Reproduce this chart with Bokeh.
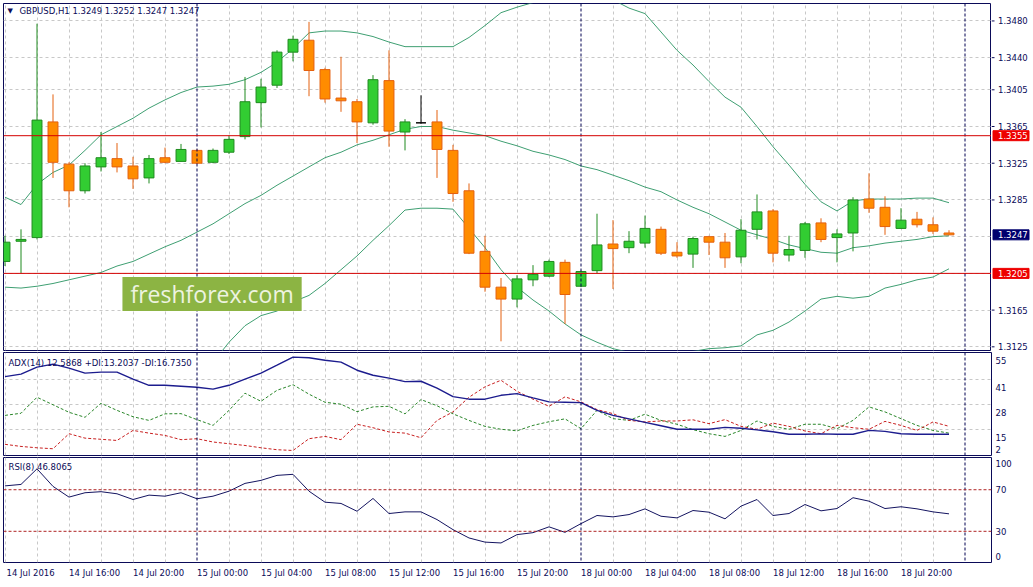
from bokeh.plotting import figure
from bokeh.layouts import column, row
from bokeh.models import (Range1d, FixedTicker, Span, Label, ColumnDataSource, Grid)
from bokeh.core.properties import value
from bokeh.embed import file_html
from bokeh.resources import INLINE

# ---------------- data ----------------
symbol = "GBPUSD,H1"
opens = [1.3218, 1.3240, 1.3244, 1.3370, 1.3324, 1.3295, 1.3321, 1.3330, 1.3322, 1.3309,
         1.3331, 1.3327, 1.3339, 1.3326, 1.3337, 1.3354, 1.3391, 1.3410, 1.3446, 1.3459,
         1.3427, 1.3396, 1.3392, 1.3369, 1.3415, 1.3359, 1.3369, 1.3370, 1.3339, 1.3295,
         1.3229, 1.3190, 1.3177, 1.3198, 1.3202, 1.3217, 1.3191, 1.3208, 1.3237, 1.3233,
         1.3238, 1.3253, 1.3228, 1.3226, 1.3245, 1.3239, 1.3223, 1.3253, 1.3273, 1.3225,
         1.3230, 1.3260, 1.3244, 1.3249, 1.3286, 1.3277, 1.3254, 1.3264, 1.3258, 1.3249]
highs = [1.3246, 1.3253, 1.3477, 1.3400, 1.3326, 1.3325, 1.3359, 1.3347, 1.3332, 1.3334,
         1.3342, 1.3346, 1.3340, 1.3341, 1.3355, 1.3419, 1.3417, 1.3448, 1.3464, 1.3479,
         1.3429, 1.3441, 1.3395, 1.3421, 1.3448, 1.3373, 1.3399, 1.3383, 1.3345, 1.3303,
         1.3246, 1.3200, 1.3203, 1.3214, 1.3220, 1.3220, 1.3208, 1.3270, 1.3263, 1.3251,
         1.3268, 1.3256, 1.3239, 1.3245, 1.3246, 1.3249, 1.3264, 1.3291, 1.3275, 1.3246,
         1.3261, 1.3265, 1.3253, 1.3288, 1.3314, 1.3289, 1.3276, 1.3272, 1.3266, 1.3252]
lows = [1.3213, 1.3205, 1.3242, 1.3309, 1.3277, 1.3292, 1.3316, 1.3315, 1.3297, 1.3303,
        1.3325, 1.3327, 1.3324, 1.3325, 1.3335, 1.3351, 1.3364, 1.3407, 1.3436, 1.3398,
        1.3391, 1.3381, 1.3347, 1.3367, 1.3343, 1.3339, 1.3368, 1.3309, 1.3283, 1.3226,
        1.3185, 1.3131, 1.3168, 1.3191, 1.3201, 1.3150, 1.3190, 1.3205, 1.3188, 1.3227,
        1.3233, 1.3225, 1.3222, 1.3211, 1.3225, 1.3211, 1.3216, 1.3242, 1.3217, 1.3218,
        1.3222, 1.3239, 1.3217, 1.3229, 1.3271, 1.3247, 1.3254, 1.3255, 1.3248, 1.3247]
closes = [1.3239, 1.3242, 1.3372, 1.3326, 1.3295, 1.3322, 1.3331, 1.3321, 1.3308, 1.3330,
          1.3326, 1.3340, 1.3325, 1.3339, 1.3351, 1.3392, 1.3408, 1.3446, 1.3460, 1.3426,
          1.3395, 1.3393, 1.3370, 1.3416, 1.3360, 1.3370, 1.3369, 1.3340, 1.3292, 1.3227,
          1.3190, 1.3177, 1.3199, 1.3204, 1.3218, 1.3182, 1.3207, 1.3236, 1.3232, 1.3240,
          1.3254, 1.3227, 1.3224, 1.3243, 1.3239, 1.3222, 1.3252, 1.3272, 1.3227, 1.3231,
          1.3259, 1.3242, 1.3248, 1.3285, 1.3276, 1.3256, 1.3263, 1.3258, 1.3251, 1.3247]

bb_upper = [1.3288, 1.3280, 1.3302, 1.3315, 1.3323, 1.3339, 1.3356, 1.3365, 1.3374, 1.3385,
            1.3394, 1.3402, 1.3408, 1.3409, 1.3411, 1.3416, 1.3424, 1.3435, 1.3450, 1.3467,
            1.3469, 1.3469, 1.3467, 1.3463, 1.3457, 1.3452, 1.3452, 1.3452, 1.3452, 1.3462,
            1.3475, 1.3489, 1.3495, 1.3500, 1.3508, 1.3512, 1.3513, 1.3511, 1.3503, 1.3494,
            1.3488, 1.3468, 1.3448, 1.3432, 1.3414, 1.3397, 1.3386, 1.3365, 1.3343, 1.3323,
            1.3302, 1.3283, 1.3273, 1.3284, 1.3286, 1.3286, 1.3286, 1.3287, 1.3287, 1.3282]
bb_middle = [1.3190, 1.3189, 1.3191, 1.3194, 1.3198, 1.3202, 1.3206, 1.3213, 1.3218, 1.3226,
             1.3234, 1.3241, 1.3250, 1.3259, 1.3270, 1.3281, 1.3290, 1.3301, 1.3311, 1.3321,
             1.3331, 1.3337, 1.3345, 1.3350, 1.3356, 1.3362, 1.3365, 1.3365, 1.3361, 1.3358,
             1.3355, 1.3349, 1.3344, 1.3338, 1.3334, 1.3329, 1.3322, 1.3318, 1.3312, 1.3306,
             1.3299, 1.3294, 1.3285, 1.3277, 1.3270, 1.3261, 1.3252, 1.3247, 1.3242, 1.3236,
             1.3232, 1.3228, 1.3227, 1.3233, 1.3235, 1.3238, 1.3240, 1.3242, 1.3245, 1.3246]
bb_lower = [1.3092, 1.3099, 1.3080, 1.3073, 1.3072, 1.3065, 1.3057, 1.3062, 1.3063, 1.3067,
            1.3073, 1.3081, 1.3092, 1.3108, 1.3130, 1.3148, 1.3159, 1.3164, 1.3174, 1.3181,
            1.3194, 1.3209, 1.3224, 1.3241, 1.3257, 1.3274, 1.3276, 1.3276, 1.3275, 1.3254,
            1.3233, 1.3209, 1.3190, 1.3176, 1.3164, 1.3150, 1.3138, 1.3130, 1.3123, 1.3119,
            1.3118, 1.3118, 1.3119, 1.3120, 1.3123, 1.3124, 1.3126, 1.3138, 1.3143, 1.3152,
            1.3164, 1.3177, 1.3180, 1.3178, 1.3180, 1.3189, 1.3193, 1.3198, 1.3201, 1.3210]

adx = [42.5, 43.8, 47.4, 49.0, 46.9, 44.3, 44.8, 44.8, 41.2, 38.0,
       38.0, 37.5, 37.0, 36.0, 38.0, 41.2, 44.3, 48.4, 52.6, 52.3,
       51.0, 50.0, 45.8, 43.2, 41.7, 39.9, 40.1, 36.5, 32.1, 30.8,
       30.8, 32.8, 33.7, 31.5, 29.4, 29.2, 29.0, 25.0, 22.4, 20.6,
       18.8, 17.0, 15.2, 15.2, 15.2, 16.2, 15.7, 14.9, 13.9, 12.6,
       12.6, 12.8, 12.6, 12.6, 14.6, 14.1, 12.9, 12.6, 12.6, 12.5868]
plus_di = [22.4, 23.5, 31.8, 27.9, 24.0, 21.4, 28.7, 25.0, 21.7, 19.8,
           23.2, 23.3, 20.2, 17.2, 25.0, 33.9, 29.7, 35.4, 38.3, 33.4,
           29.2, 28.2, 24.3, 26.8, 27.1, 23.2, 30.6, 27.4, 23.2, 19.8,
           16.7, 15.2, 14.4, 17.2, 19.1, 20.6, 15.5, 25.0, 20.7, 19.8,
           23.0, 19.8, 17.8, 15.0, 12.9, 11.5, 14.6, 19.5, 16.7, 15.2,
           17.8, 17.8, 15.5, 19.8, 26.8, 24.2, 20.7, 17.2, 14.6, 13.2037]
minus_di = [7.4, 6.3, 5.6, 5.1, 12.9, 10.6, 10.0, 9.4, 14.6, 13.2,
            12.0, 9.8, 10.3, 8.6, 7.7, 6.8, 5.6, 4.6, 4.2, 10.3,
            11.5, 9.8, 17.8, 16.0, 13.8, 13.2, 10.8, 19.8, 24.2, 31.8,
            37.2, 40.6, 34.9, 30.8, 27.1, 32.0, 29.4, 25.4, 23.3, 19.8,
            19.0, 19.5, 19.5, 20.1, 18.1, 20.2, 16.7, 15.2, 18.4, 16.7,
            14.3, 12.9, 17.2, 16.0, 15.2, 19.3, 17.2, 14.6, 19.0, 16.735]
rsi = [73.7, 75.1, 90.1, 73.2, 62.9, 67.1, 68.1, 66.1, 60.6, 64.8,
       63.8, 67.1, 61.3, 63.8, 68.6, 76.1, 79.0, 83.8, 84.8, 68.6,
       58.0, 56.8, 49.3, 61.6, 47.1, 48.7, 48.7, 41.3, 31.6, 23.6,
       19.6, 18.8, 26.8, 28.7, 34.3, 29.0, 37.4, 45.2, 43.9, 46.1,
       51.6, 44.5, 42.9, 50.0, 48.4, 42.0, 54.2, 60.6, 45.2, 47.1,
       55.8, 49.7, 51.9, 62.3, 59.0, 51.9, 53.6, 51.6, 48.7, 46.8065]

price_levels = [1.3355, 1.3205]
rsi_levels = [70, 30]
price_ticks = [1.3480, 1.3440, 1.3405, 1.3365, 1.3325, 1.3285, 1.3165, 1.3125]
price_grid = [1.3480, 1.3440, 1.3405, 1.3365, 1.3325, 1.3285, 1.3245, 1.3205, 1.3165, 1.3125]
adx_ticks = [55, 41, 28, 15, 2]
adx_grid = [41, 28, 15]
rsi_ticks = [100, 70, 30, 0]
day_separators = [12, 36, 60]
time_tick_bars = [0, 4, 8, 12, 16, 20, 24, 28, 32, 36, 40, 44, 48, 52, 56]
time_labels = ["14 Jul 2016", "14 Jul 16:00", "14 Jul 20:00", "15 Jul 00:00", "15 Jul 04:00",
               "15 Jul 08:00", "15 Jul 12:00", "15 Jul 16:00", "15 Jul 20:00", "18 Jul 00:00",
               "18 Jul 04:00", "18 Jul 08:00", "18 Jul 12:00", "18 Jul 16:00", "18 Jul 20:00"]

# ---------------- style ----------------
FONT = "DejaVu Sans"
FS = "8.5px"
NAVY = "#0a0a58"
SEP = "#000050"
GRID = "#c8c8c8"
BULL_FILL, BULL_LINE = "#32cd32", "#1f8a1f"
BEAR_FILL, BEAR_LINE = "#ff8c00", "#e4600e"
BB_COLOR = "#3f9f72"
LEVEL_RED = "#d40000"
RSI_LEVEL = "#b02424"
FRAME_W = 988
AXIS_W = 42

N = len(opens)
xs = list(range(N))
x_range = Range1d(-0.09375, 61.65625)


def base_fig(frame_h, y_range, top, bottom, with_yaxis=True, with_xaxis=False):
    p = figure(frame_width=FRAME_W, frame_height=frame_h, x_range=x_range, y_range=y_range,
               output_backend="svg", toolbar_location=None, tools="",
               y_axis_location="right" if with_yaxis else None,
               x_axis_location="below" if with_xaxis else None,
               min_border_left=3, min_border_right=AXIS_W if with_yaxis else 0,
               min_border_top=top, min_border_bottom=bottom,
               background_fill_color="white", border_fill_color="white")
    p.outline_line_color = NAVY
    p.outline_line_width = 1
    p.xgrid.visible = False
    p.ygrid.visible = False
    vgrid = [b for b in range(0, 62, 2) if b not in day_separators]
    p.add_layout(Grid(dimension=0, ticker=FixedTicker(ticks=vgrid),
                      grid_line_color=GRID, grid_line_dash="3 3", grid_line_width=1))
    for s in day_separators:
        p.add_layout(Span(location=s, dimension="height", line_color=SEP,
                          line_dash="3 2", line_width=1))
    if with_yaxis:
        ax = p.yaxis[0]
        ax.axis_line_color = None
        ax.minor_tick_line_color = None
        ax.major_label_text_font = FONT
        ax.major_label_text_font_size = FS
        ax.major_label_text_color = NAVY
    return p


def header(p, text, x_off, y_off, size=FS):
    p.add_layout(Label(x=x_range.start, y=p.y_range.end, x_offset=x_off, y_offset=y_off,
                       text=text, text_font=FONT, text_font_size=size, text_color=NAVY,
                       text_baseline="middle", text_align="left"))


# ---------------- main price panel ----------------
price_range = Range1d(1.3121, 1.3499)
main = base_fig(347, price_range, 3, 2, with_yaxis=False)
main.add_layout(Grid(dimension=1, ticker=FixedTicker(ticks=price_grid),
                     grid_line_color=GRID, grid_line_dash="3 3"))

fills, lines = [], []
for o, c in zip(opens, closes):
    if c > o:
        fills.append(BULL_FILL); lines.append(BULL_LINE)
    elif c < o:
        fills.append(BEAR_FILL); lines.append(BEAR_LINE)
    else:
        fills.append("#000000"); lines.append("#000000")
src = ColumnDataSource(dict(x=xs, high=highs, low=lows,
                            top=[max(o, c) for o, c in zip(opens, closes)],
                            bottom=[min(o, c) for o, c in zip(opens, closes)],
                            fill=fills, line=lines))

main.line(xs, bb_upper, line_color=BB_COLOR, line_width=1)
main.line(xs, bb_middle, line_color=BB_COLOR, line_width=1)
main.line(xs, bb_lower, line_color=BB_COLOR, line_width=1)

for lvl in price_levels:
    main.add_layout(Span(location=lvl, dimension="width", line_color=LEVEL_RED, line_width=1))

main.segment(x0="x", y0="low", x1="x", y1="high", line_color="line", line_width=1, source=src)
main.vbar(x="x", width=0.62, top="top", bottom="bottom", fill_color="fill",
          line_color="line", line_width=1, source=src)

# watermark
main.add_layout(Label(x=7.34, y=1.3164, text="freshforex.com", text_font="Open Sans",
                      text_font_size="23px", text_color="#eef3e0", text_align="left",
                      text_baseline="bottom", background_fill_color="#8cb443",
                      padding=dict(left=8, right=8, top=1, bottom=1)))

header(main, "\u25BC", 4, -7, size="7px")
header(main, f"{symbol}  {opens[-1]:.4f} {highs[-1]:.4f} {lows[-1]:.4f} {closes[-1]:.4f}", 16, -7)

# ---------------- price scale (right of the main panel) ----------------
scale = figure(frame_width=AXIS_W, frame_height=347, x_range=Range1d(0, AXIS_W),
               y_range=price_range, output_backend="svg", toolbar_location=None, tools="",
               x_axis_location=None, y_axis_location=None, min_border_left=0,
               min_border_right=0, min_border_top=3, min_border_bottom=2,
               background_fill_color="white", border_fill_color="white")
scale.outline_line_color = None
scale.xgrid.visible = False
scale.ygrid.visible = False
scale.segment(x0=[0] * len(price_ticks), y0=price_ticks, x1=[3] * len(price_ticks),
              y1=price_ticks, line_color=NAVY, line_width=1)
scale.text(x=[6.5] * len(price_ticks), y=price_ticks, text=[f"{t:.4f}" for t in price_ticks],
           text_font=value(FONT), text_font_size=FS, text_color=NAVY,
           text_baseline="middle", text_align="left")
box_vals = price_levels + [closes[-1]]
box_cols = ["#ee0000", "#ee0000", "#00006e"]
scale.rect(x=[19.5] * 3, y=box_vals, width=[36] * 3, height=[10] * 3, height_units="screen",
           fill_color=box_cols, line_color=box_cols)
scale.text(x=[6.5] * 3, y=box_vals, text=[f"{v:.4f}" for v in box_vals],
           text_font=value(FONT), text_font_size=FS, text_color="white",
           text_baseline="middle", text_align="left")

# ---------------- ADX panel ----------------
adx_fig = base_fig(103, Range1d(1.6, 55.0), 0, 2)
adx_fig.add_layout(Grid(dimension=1, ticker=FixedTicker(ticks=adx_grid),
                        grid_line_color=GRID, grid_line_dash="3 3"))
adx_label_pos = [50.7, 36.7, 23.7, 10.7, 4.8]
adx_fig.yaxis.ticker = FixedTicker(ticks=adx_label_pos)
adx_fig.yaxis.major_label_overrides = {pos: str(t) for pos, t in zip(adx_label_pos, adx_ticks)}
adx_fig.yaxis.major_tick_line_color = None
adx_fig.yaxis.major_tick_out = 0
adx_fig.yaxis.major_tick_in = 0
adx_fig.yaxis.major_label_standoff = 4

adx_fig.line(xs, plus_di, line_color="#2a862a", line_width=1, line_dash="3 2")
adx_fig.line(xs, minus_di, line_color="#c82020", line_width=1, line_dash="3 2")
adx_fig.line(xs, adx, line_color="#1c1c8e", line_width=1.4)
header(adx_fig, f"ADX(14) {adx[-1]:.4f} +DI:{plus_di[-1]:.4f} -DI:{minus_di[-1]:.4f}", 5, -10)

# ---------------- RSI panel ----------------
rsi_fig = base_fig(105, Range1d(0.0, 101.0), 0, 25, with_xaxis=True)
for lvl in rsi_levels:
    rsi_fig.add_layout(Span(location=lvl, dimension="width", line_color=RSI_LEVEL,
                            line_dash="3 2", line_width=1))
rsi_label_pos = [95.1, 70, 30, 5.8]
rsi_fig.yaxis.ticker = FixedTicker(ticks=rsi_label_pos)
rsi_fig.yaxis.major_label_overrides = {pos: str(t) for pos, t in zip(rsi_label_pos, rsi_ticks)}
rsi_fig.yaxis.major_tick_line_color = None
rsi_fig.yaxis.major_tick_out = 0
rsi_fig.yaxis.major_tick_in = 0
rsi_fig.yaxis.major_label_standoff = 4
rsi_fig.line(xs, rsi, line_color="#141460", line_width=1)
header(rsi_fig, f"RSI(8) {rsi[-1]:.4f}", 5, -9)

# time axis: MT4 puts the label text to the right of its tick
x_label_pos = [b + 1.6 for b in time_tick_bars]
xa = rsi_fig.xaxis[0]
xa.ticker = FixedTicker(ticks=x_label_pos)
xa.major_label_overrides = {pos: lab for pos, lab in zip(x_label_pos, time_labels)}
xa.axis_line_color = None
xa.major_tick_line_color = None
xa.minor_tick_line_color = None
xa.major_tick_out = 0
xa.major_tick_in = 0
xa.major_label_standoff = 5
xa.major_label_text_font = FONT
xa.major_label_text_font_size = FS
xa.major_label_text_color = NAVY

layout = column(row(main, scale, spacing=0), adx_fig, rsi_fig, spacing=0)
with open("out.html", "w") as f:
    f.write(file_html(layout, INLINE, title="GBPUSD H1"))
